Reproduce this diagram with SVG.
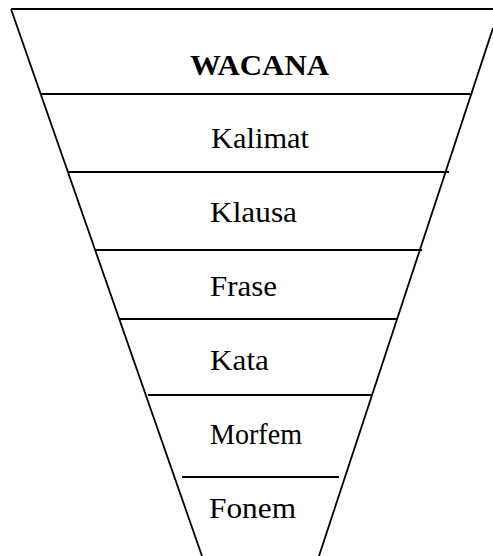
<svg xmlns="http://www.w3.org/2000/svg" width="493" height="556" viewBox="0 0 493 556">
<style>
.ln{stroke:#000;stroke-width:1.8;fill:none}
.t{font-family:"Liberation Serif","Times New Roman",serif;font-size:29px;fill:#000}
.b{font-weight:bold}
</style>
<rect width="493" height="556" fill="#fff"/>
<g id="funnel">
<line class="ln" x1="11" y1="9" x2="493" y2="9"/>
<line class="ln" x1="11" y1="9" x2="202" y2="556"/>
<line class="ln" x1="493" y1="28" x2="319" y2="556"/>
</g>
<g id="wacana"><text class="t b" x="190" y="75" textLength="139" lengthAdjust="spacingAndGlyphs">WACANA</text></g>
<g id="kalimat"><line class="ln" x1="41" y1="94" x2="470" y2="94"/><text class="t" x="211" y="148" textLength="98" lengthAdjust="spacingAndGlyphs">Kalimat</text></g>
<g id="klausa"><line class="ln" x1="68" y1="172" x2="449" y2="172"/><text class="t" x="210" y="222" textLength="87" lengthAdjust="spacingAndGlyphs">Klausa</text></g>
<g id="frase"><line class="ln" x1="95" y1="250" x2="422" y2="250"/><text class="t" x="210" y="296" textLength="67" lengthAdjust="spacingAndGlyphs">Frase</text></g>
<g id="kata"><line class="ln" x1="119" y1="319" x2="397" y2="319"/><text class="t" x="210" y="370" textLength="59" lengthAdjust="spacingAndGlyphs">Kata</text></g>
<g id="morfem"><line class="ln" x1="148" y1="395" x2="373" y2="395"/><text class="t" x="210" y="444" textLength="92" lengthAdjust="spacingAndGlyphs">Morfem</text></g>
<g id="fonem"><line class="ln" x1="182" y1="477" x2="339" y2="477"/><text class="t" x="209" y="518" textLength="87" lengthAdjust="spacingAndGlyphs">Fonem</text></g>
<g id="connectors"/>
</svg>
